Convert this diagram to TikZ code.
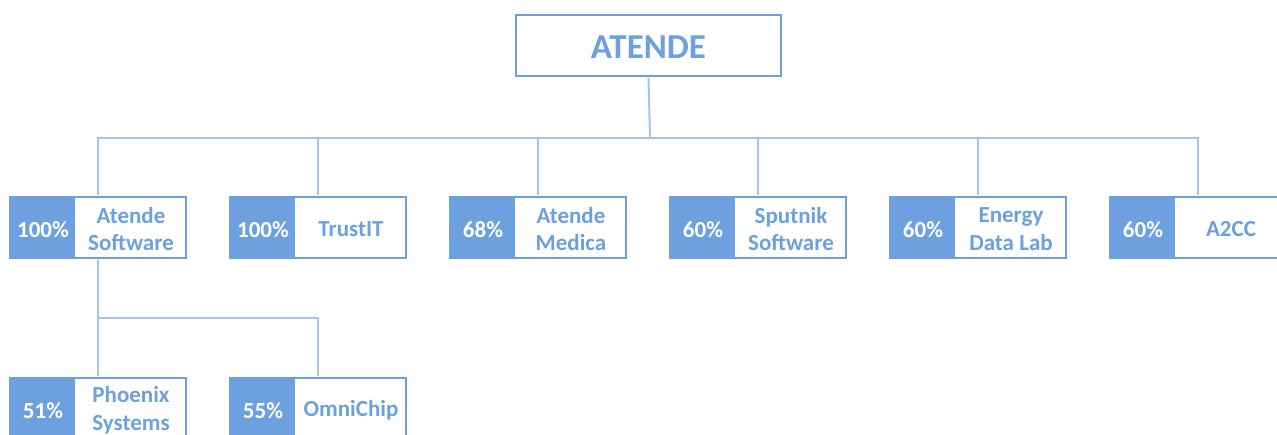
\documentclass[tikz,border=0pt]{standalone}
\usepackage{fontspec}
\setmainfont{Carlito}
\definecolor{boxblue}{HTML}{6CA0DE}
\definecolor{lineblue}{HTML}{A5C4EA}
\begin{document}
\begin{tikzpicture}[x=1pt,y=-1pt,
  topbox/.style={draw=boxblue, line width=1.8pt, minimum width=265pt, minimum height=61pt, inner sep=0pt,
    text=boxblue, font=\fontsize{35}{38}\selectfont\bfseries},
  compbox/.style={draw=boxblue, line width=1.8pt, minimum width=176pt, minimum height=61pt, inner sep=0pt, fill=white},
  pctbox/.style={minimum width=66pt, minimum height=61pt, inner sep=0pt, text=white,
    font=\fontsize{23}{27.5}\selectfont\bfseries},
  namelbl/.style={text=boxblue, align=center, inner sep=0pt, font=\fontsize{23}{27.5}\selectfont\bfseries},
  conn/.style={draw=lineblue, line width=2pt, shorten <=1pt}
]
\useasboundingbox (0,0) rectangle (1277,434);
\clip (0,0) rectangle (1277,434);

\coordinate (bus) at (650,138);
\coordinate (bus2) at (98,318);

\newcommand\company[5]{%
  \node[compbox] (#1) at (#2,#3) {};
  \fill[boxblue] (#1.north west) rectangle ++(66,61);
  \node[pctbox, yshift=-2pt] (#1p) at (#2-55,#3) {#4};
  \node[namelbl, yshift=-1.5pt] (#1n) at (#2+33,#3) {#5};
}
\company{c1}{98}{227.5}{100\%}{Atende\\Software}
\company{c2}{318}{227.5}{100\%}{TrustIT}
\company{c3}{538}{227.5}{68\%}{Atende\\Medica}
\company{c4}{758}{227.5}{60\%}{Sputnik\\Software}
\company{c5}{978}{227.5}{60\%}{Energy\\Data Lab}
\company{c6}{1198}{227.5}{60\%}{A2CC}
\company{d1}{98}{408.5}{51\%}{Phoenix\\Systems}
\company{d2}{318}{408.5}{55\%}{OmniChip}

\node[topbox] (top) at (648.5,45.5) {};
\node[text=boxblue, font=\fontsize{35}{38}\selectfont\bfseries, yshift=-1.5pt] (toplbl) at (top) {ATENDE};

\draw[conn] (top.south) -- (bus);
\foreach \c in {c1,c2,c3,c4,c5,c6} {
  \draw[conn] (\c.north) |- (bus);
}
\draw[conn] (c1.south) -- (bus2);
\draw[conn] (d1.north) |- (bus2);
\draw[conn] (d2.north) |- (bus2);
\end{tikzpicture}
\end{document}
